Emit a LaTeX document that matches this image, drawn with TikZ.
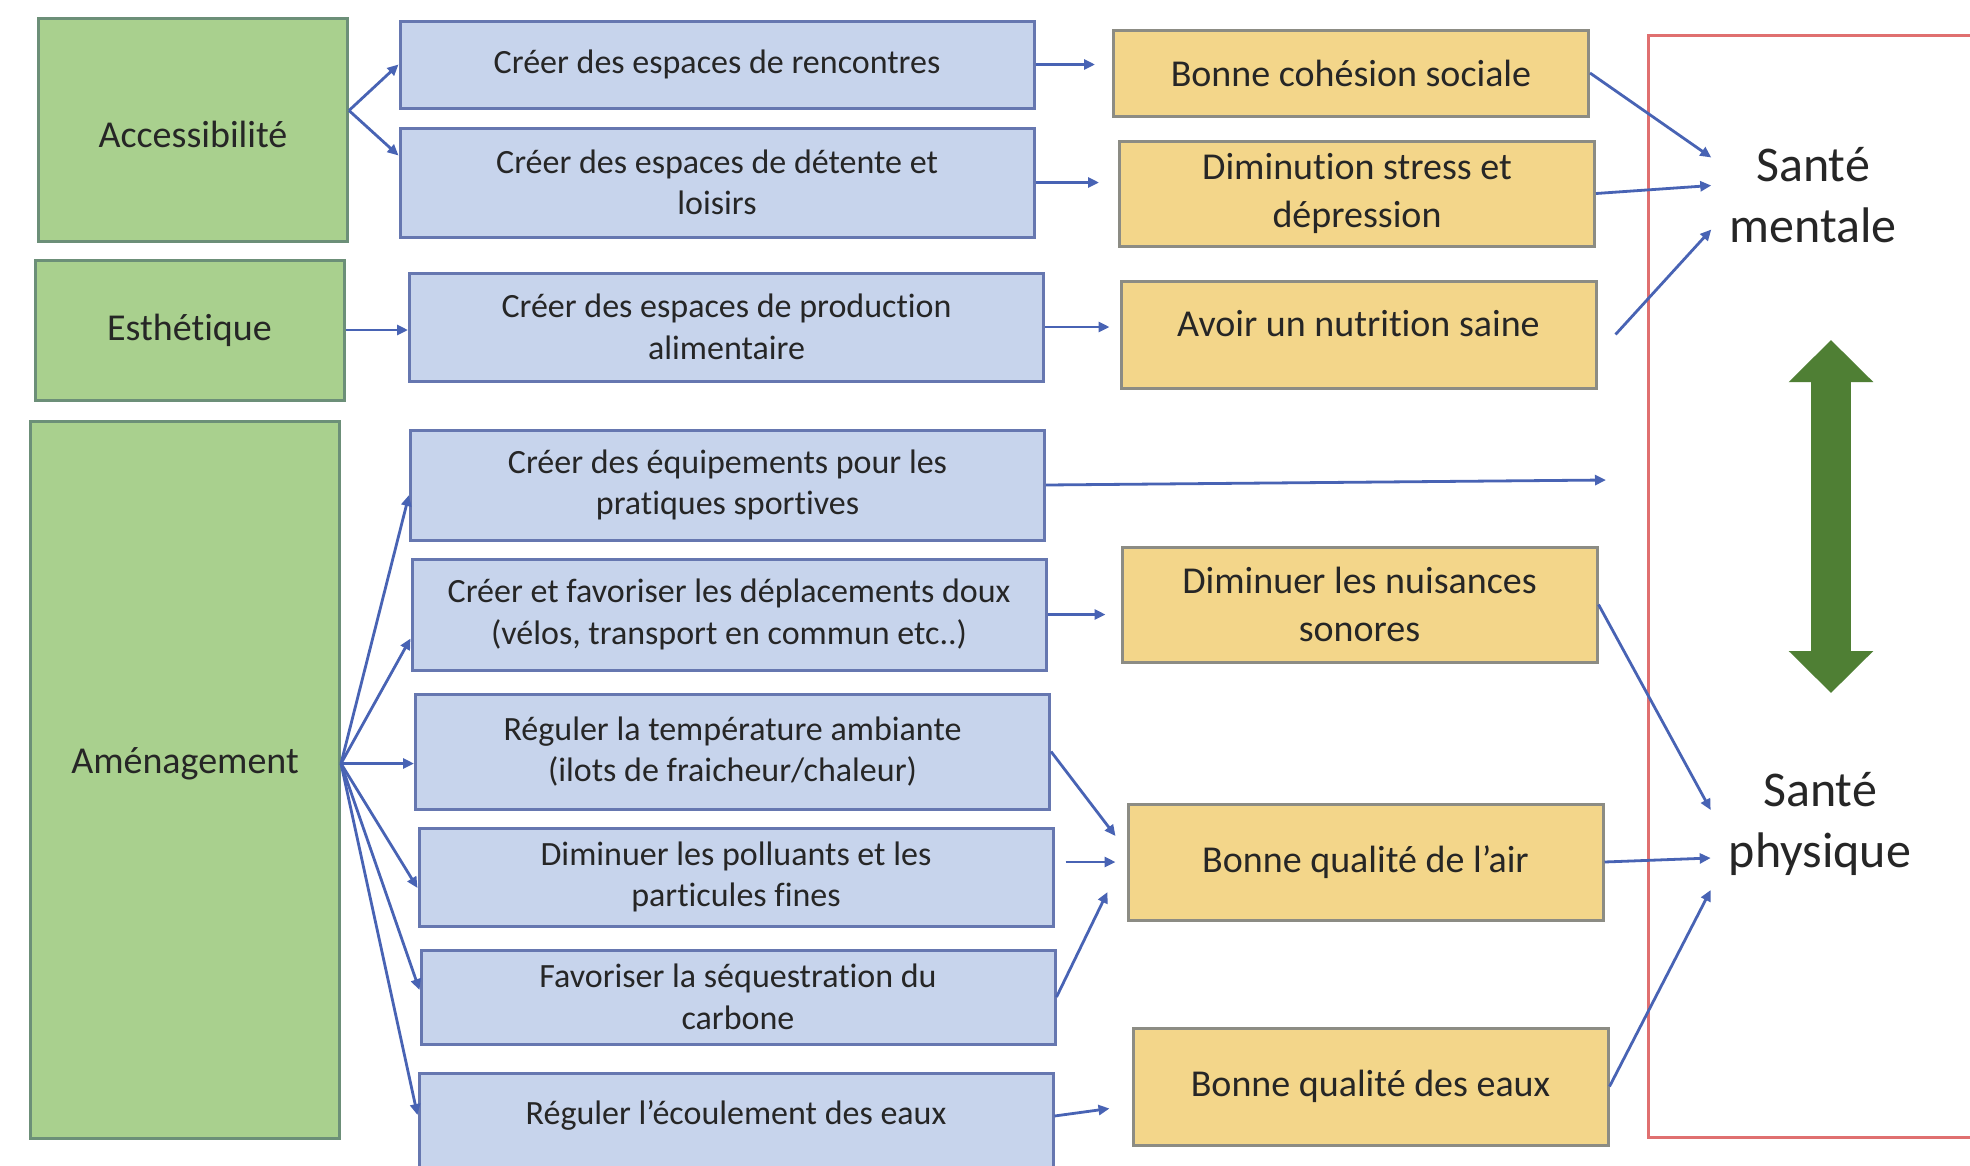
\documentclass[tikz,border=0pt]{standalone}
\usepackage{fontspec}
\setmainfont{Carlito}[Ligatures=NoCommon]
\usetikzlibrary{arrows.meta}
\definecolor{greenfill}{HTML}{A9D08E}
\definecolor{greenline}{HTML}{6C8F78}
\definecolor{bluefill}{HTML}{C7D4EC}
\definecolor{blueline}{HTML}{6677B0}
\definecolor{yellowfill}{HTML}{F3D68A}
\definecolor{yellowline}{HTML}{8C8C84}
\definecolor{arrowblue}{HTML}{4863B4}
\definecolor{redline}{HTML}{E07070}
\definecolor{darkgreen}{HTML}{4F7F34}
\definecolor{textgray}{HTML}{262626}
\begin{document}
\begin{tikzpicture}[x=1pt, y=-1pt,
            facteur/.style={draw=greenline, fill=greenfill, line width=3pt, minimum width=309pt, font=\fontsize{38}{47}\selectfont, text=textgray},
            action/.style={draw=blueline, fill=bluefill, line width=3pt, minimum width=634pt, inner sep=0pt, align=center, font=\fontsize{34}{41.5}\selectfont, text=textgray},
            effet/.style={draw=yellowline, fill=yellowfill, line width=3pt, minimum width=475pt, inner sep=0pt, align=center, font=\fontsize{38}{47.5}\selectfont, text=textgray},
            sante/.style={inner xsep=18pt, align=center, font=\fontsize{50}{61}\selectfont, text=textgray},
            fleche/.style={draw=arrowblue, line width=2.8pt, -{Triangle[length=11pt,width=10pt]}}
            ]
            \path[use as bounding box, fill=white] (0,0) rectangle (1970,1165);

            \node[facteur, minimum height=223pt, text height=36pt] (acc) at (193,129.5) {Accessibilité};
            \node[facteur, minimum height=140pt] (est) at (189.5,330) {Esthétique};
            \node[facteur, minimum height=717pt, text depth=38pt] (amen) at (185,779.5) {Aménagement};

            \node[action, minimum height=87pt] (rencontres) at (717,64.5) {Créer des espaces de rencontres};
            \node[action, minimum height=109pt] (detente) at (717,182.5) {Créer des espaces de détente et\\loisirs};
            \node[action, minimum height=108pt] (production) at (726.5,327) {Créer des espaces de production\\alimentaire};
            \node[action, minimum height=110pt] (sport) at (727.5,485) {Créer des équipements pour les\\pratiques sportives};
            \node[action, minimum height=111pt] (deplacement) at (729,614.5) {Créer et favoriser les déplacements doux\\(vélos, transport en commun etc..)};
            \node[action, minimum height=115pt] (temperature) at (732.5,751.5) {Réguler la température ambiante\\(ilots de fraicheur/chaleur)};
            \node[action, minimum height=98pt] (polluants) at (736,877) {Diminuer les polluants et les\\particules fines};
            \node[action, minimum height=94pt] (carbone) at (738,997) {Favoriser la séquestration du\\carbone};
            \node[action, anchor=north, text height=51pt, text depth=100pt] (ecoulement) at (736,1072) {Réguler l’écoulement des eaux};

            \node[effet, minimum height=86pt] (cohesion) at (1351,73) {Bonne cohésion sociale};
            \node[effet, minimum height=105pt] (stress) at (1357,193.5) {Diminution stress et\\dépression};
            \node[effet, minimum height=107pt, text depth=22pt] (nutrition) at (1358.5,334.5) {Avoir un nutrition saine};
            \node[effet, minimum height=115pt] (nuisances) at (1359.5,604.5) {Diminuer les nuisances\\sonores};
            \node[effet, minimum height=116pt] (air) at (1365.5,862) {Bonne qualité de l’air};
            \node[effet, minimum height=117pt] (eaux) at (1370.5,1086.5) {Bonne qualité des eaux};

            \draw[redline, line width=3pt] (1648,35) rectangle (1990,1137);
            \node[sante] (mentale) at (1813,195.5) {Santé\\mentale};
            \node[sante] (physique) at (1820,824) {Santé\\physique};

            \coordinate (acc-out) at ([yshift=19pt]acc.east);
            \coordinate (amen-out) at ([yshift=16pt]amen.east);
            \coordinate (fin-sport) at (1606,480);
            \coordinate (haut) at (1831,340);
            \coordinate (bas) at (1831,693);

            \draw[fleche] (acc-out) -- (rencontres.west);
            \draw[fleche] (acc-out) -- ([yshift=27pt]detente.west);
            \draw[fleche] (est.east) -- (est.east -| production.west);
            \draw[fleche] (amen-out) -- ([yshift=-10pt]sport.west);
            \draw[fleche] (amen-out) -- ([yshift=-24pt]deplacement.west);
            \draw[fleche] (amen-out) -- (amen-out -| temperature.west);
            \draw[fleche] (amen-out) -- ([yshift=-11pt]polluants.west);
            \draw[fleche] (amen-out) -- ([yshift=7pt]carbone.west);
            \draw[fleche] (amen-out) -- ([yshift=-43pt]ecoulement.north west);

            \draw[fleche, shorten >=17pt] (rencontres.east) -- (rencontres.east -| cohesion.west);
            \draw[fleche, shorten >=19pt] (detente.east) -- (detente.east -| stress.west);
            \draw[fleche, shorten >=10pt] (production.east) -- (production.east -| nutrition.west);
            \draw[fleche] (sport.east) -- (fin-sport);
            \draw[fleche, shorten >=15pt] (deplacement.east) -- (deplacement.east -| nuisances.west);
            \draw[fleche] (temperature.east) -- ([xshift=-11pt,yshift=26pt]air.west);
            \draw[fleche, shorten >=11pt] ([xshift=11pt,yshift=15pt]polluants.east) -- ([yshift=15pt]polluants.east -| air.west);
            \draw[fleche] (carbone.east) -- ([xshift=-19pt,yshift=-30pt]air.west);
            \draw[fleche] ([yshift=-44pt]ecoulement.north east) -- ([xshift=-22pt,yshift=-22pt]eaux.west);

            \draw[fleche] (cohesion.east) -- ([yshift=38pt]mentale.west);
            \draw[fleche] (stress.east) -- ([yshift=10pt]mentale.west);
            \draw[fleche] ([xshift=18pt]nutrition.east) -- ([yshift=-34pt]mentale.west);
            \draw[fleche] (nuisances.east) -- ([yshift=14pt]physique.west);
            \draw[fleche] (air.east) -- ([yshift=-34pt]physique.west);
            \draw[fleche] (eaux.east) -- ([yshift=-66pt]physique.west);

            \draw[darkgreen, line width=40pt, {Triangle[width=82pt,length=42pt]}-{Triangle[width=82pt,length=42pt]}] (haut) -- (bas);
            \end{tikzpicture}
\end{document}
